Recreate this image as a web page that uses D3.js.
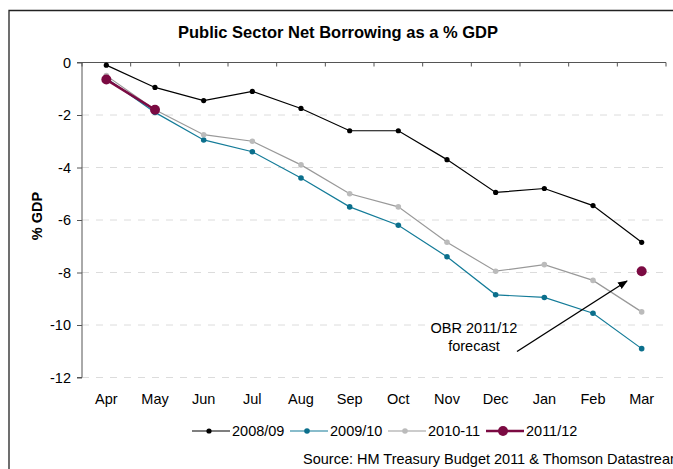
<!DOCTYPE html>
<html>
<head>
<meta charset="utf-8">
<script src="https://cdn.jsdelivr.net/npm/d3@7"></script>
<style>
  body { margin: 0; background: #fff; }
  svg { font-family: "Liberation Sans", Arial, sans-serif; }
</style>
</head>
<body>
<svg id="chart" width="673" height="469"></svg>
<script>
const months = ["Apr", "May", "Jun", "Jul", "Aug", "Sep", "Oct", "Nov", "Dec", "Jan", "Feb", "Mar"];
const yTicks = [0, -2, -4, -6, -8, -10, -12];

const fy0809 = [-0.1, -0.95, -1.45, -1.1, -1.75, -2.6, -2.6, -3.7, -4.95, -4.8, -5.45, -6.85];
const fy0910 = [-0.6, -1.9, -2.95, -3.4, -4.4, -5.5, -6.2, -7.4, -8.85, -8.95, -9.55, -10.9];
const fy1011 = [-0.5, -1.8, -2.75, -3.0, -3.9, -5.0, -5.5, -6.85, -7.95, -7.7, -8.3, -9.5];
const fy1112 = [-0.65, -1.8, null, null, null, null, null, null, null, null, null, null];
const obrForecast = { month: "Mar", value: -7.95 };

const series = [
  { name: "2008/09", values: fy0809, color: "#000000", marker: "#000000", width: 1.2, r: 2.6 },
  { name: "2009/10", values: fy0910, color: "#137b98", marker: "#0b6f8c", width: 1.2, r: 2.8 },
  { name: "2010-11", values: fy1011, color: "#999999", marker: "#bbbbbb", width: 1.2, r: 2.8 },
  { name: "2011/12", values: fy1112, color: "#7b0a42", marker: "#7b0a42", width: 2.6, r: 5 }
];

const FS = 14.5;
const svg = d3.select("#chart");

// outer frame (only left and top edges are visible in the crop)
svg.append("path")
  .attr("d", "M9,469 V10.5 H673")
  .attr("fill", "none")
  .attr("stroke", "#222")
  .attr("stroke-width", 1.3);

const x = d3.scaleBand().domain(months).range([82, 666]);
const y = d3.scaleLinear().domain([-12, 0]).range([377.5, 62.5]);

// dashed gridlines
svg.append("g")
  .selectAll("line")
  .data(yTicks.filter(d => d !== 0))
  .join("line")
  .attr("x1", 82).attr("x2", 666)
  .attr("y1", d => y(d)).attr("y2", d => y(d))
  .attr("stroke", "#dcdcdc")
  .attr("stroke-dasharray", "7,7");

// y axis
const yAxis = svg.append("g")
  .attr("transform", "translate(82,0)")
  .call(d3.axisLeft(y).tickValues(yTicks).tickSize(5).tickPadding(6).tickFormat(d3.format("d")));
yAxis.select(".domain").attr("stroke", "#555").attr("d", `M-5,${y(0)}H0V${y(-12)}H-5`);
yAxis.selectAll(".tick line").attr("stroke", "#555");
yAxis.selectAll(".tick text").attr("font-size", FS).attr("fill", "#000")
  .text(d => d < 0 ? "-" + Math.abs(d) : d);

// x axis line at zero with ticks on band edges
svg.append("line")
  .attr("x1", 82).attr("x2", 666)
  .attr("y1", y(0)).attr("y2", y(0))
  .attr("stroke", "#555").attr("stroke-width", 1.2);
svg.append("g")
  .selectAll("line")
  .data(months.concat(["end"]))
  .join("line")
  .attr("x1", (d, i) => 82 + i * x.bandwidth())
  .attr("x2", (d, i) => 82 + i * x.bandwidth())
  .attr("y1", y(0)).attr("y2", y(0) + 4)
  .attr("stroke", "#555");

// month labels at the bottom
svg.append("g")
  .selectAll("text")
  .data(months)
  .join("text")
  .attr("x", d => x(d) + x.bandwidth() / 2)
  .attr("y", 404)
  .attr("text-anchor", "middle")
  .attr("font-size", FS)
  .text(d => d);

const cx = m => x(m) + x.bandwidth() / 2;

const line = d3.line()
  .defined(d => d != null)
  .x((d, i) => cx(months[i]))
  .y(d => y(d));

series.forEach(s => {
  svg.append("path")
    .datum(s.values)
    .attr("d", line)
    .attr("fill", "none")
    .attr("stroke", s.color)
    .attr("stroke-width", s.width);
  svg.append("g")
    .selectAll("circle")
    .data(s.values.map((v, i) => ({ v, m: months[i] })).filter(d => d.v != null))
    .join("circle")
    .attr("cx", d => cx(d.m))
    .attr("cy", d => y(d.v))
    .attr("r", s.r)
    .attr("fill", s.marker);
});

// OBR forecast point
svg.append("circle")
  .attr("cx", cx(obrForecast.month))
  .attr("cy", y(obrForecast.value))
  .attr("r", 5)
  .attr("fill", "#7b0a42");

// annotation arrow
svg.append("defs").append("marker")
  .attr("id", "arrow")
  .attr("viewBox", "0 0 10 10")
  .attr("refX", 9).attr("refY", 5)
  .attr("markerWidth", 7).attr("markerHeight", 7)
  .attr("orient", "auto")
  .append("path")
  .attr("d", "M0,1 L10,5 L0,9 Z")
  .attr("fill", "#000");

svg.append("line")
  .attr("x1", 517).attr("y1", 351.5)
  .attr("x2", 627).attr("y2", 281)
  .attr("stroke", "#000")
  .attr("stroke-width", 1.4)
  .attr("marker-end", "url(#arrow)");

svg.append("text")
  .attr("x", 474).attr("y", 333)
  .attr("text-anchor", "middle")
  .attr("font-size", FS)
  .text("OBR 2011/12");
svg.append("text")
  .attr("x", 474).attr("y", 351)
  .attr("text-anchor", "middle")
  .attr("font-size", FS)
  .text("forecast");

// title
svg.append("text")
  .attr("x", 338).attr("y", 38)
  .attr("text-anchor", "middle")
  .attr("font-size", 16.5)
  .attr("font-weight", "bold")
  .text("Public Sector Net Borrowing as a % GDP");

// y label
svg.append("text")
  .attr("transform", "translate(42,216) rotate(-90)")
  .attr("text-anchor", "middle")
  .attr("font-size", FS)
  .attr("font-weight", "bold")
  .text("% GDP");

// legend
const legendX = [192, 290, 388, 486];
const lg = svg.append("g");
series.forEach((s, i) => {
  const x0 = legendX[i];
  lg.append("line")
    .attr("x1", x0).attr("x2", x0 + 38)
    .attr("y1", 431).attr("y2", 431)
    .attr("stroke", s.color)
    .attr("stroke-width", s.width);
  lg.append("circle")
    .attr("cx", x0 + 17).attr("cy", 431)
    .attr("r", s.r)
    .attr("fill", s.marker);
  lg.append("text")
    .attr("x", x0 + 40).attr("y", 436)
    .attr("font-size", FS)
    .text(s.name);
});

// source
svg.append("text")
  .attr("x", 303).attr("y", 464)
  .attr("font-size", FS)
  .text("Source: HM Treasury Budget 2011 & Thomson Datastream");
</script>
</body>
</html>
